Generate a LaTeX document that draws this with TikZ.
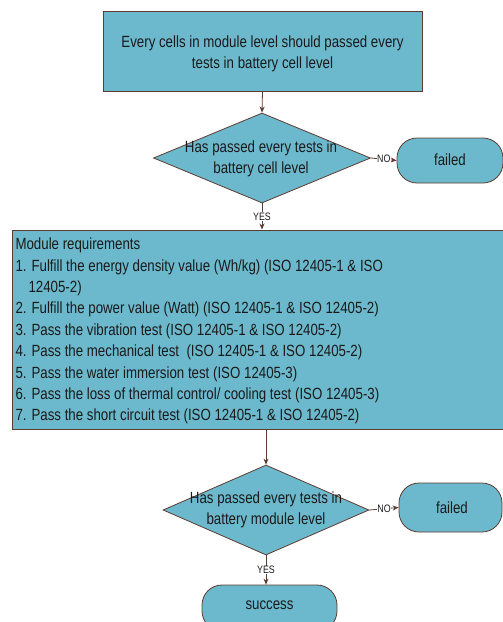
\documentclass[tikz,border=0pt]{standalone}
\usepackage{fontspec}
\setmainfont{Liberation Sans}[FakeStretch=0.82]
\usetikzlibrary{shapes.geometric,arrows.meta}
\definecolor{boxfill}{HTML}{6CB9CD}
\definecolor{boxline}{HTML}{5C3B30}
\definecolor{txt}{HTML}{1A1A1A}
\tikzset{
  every node/.style={text=txt},
  mainfont/.style={font=\fontsize{16.2}{21.4}\selectfont},
  rectbox/.style={draw=boxline, fill=boxfill, line width=1pt, rectangle, inner sep=0pt},
  roundbox/.style={draw=boxline, fill=boxfill, line width=0.8pt, rectangle, rounded corners=20pt, inner sep=0pt},
  decision/.style={draw=boxline, fill=boxfill, line width=0.8pt, diamond, inner sep=0pt},
  conn/.style={draw=boxline, line width=0.8pt, -{Stealth[length=6pt,width=5pt]}},
  yesno/.style={fill=white, inner sep=0.6pt, font=\fontsize{10.8}{12}\selectfont}
}
\begin{document}
\begin{tikzpicture}[x=1pt,y=-1pt]
\useasboundingbox (0,0) rectangle (503,622);
% top box
\node[rectbox, minimum width=319pt, minimum height=80pt] (top) at (262.5,51) {};
\node[mainfont, align=center] (toptext) at (262.5,54) {Every cells in module level should passed every\\tests in battery cell level};
% decision 1
\node[decision, minimum width=217pt, minimum height=90pt] (d1) at (262,158) {};
\node[mainfont, align=center] (d1text) at (261,159) {Has passed every tests in\\battery cell level};
% failed 1
\node[roundbox, minimum width=106pt, minimum height=45pt] (f1) at (450,160.5) {};
\node[mainfont] (f1text) at (450,160) {failed};
% module box
\node[rectbox, minimum width=510pt, minimum height=199pt] (mod) at (267,329.5) {};
\node[mainfont, align=left, anchor=north west] (modtext) at (12,234.5) {Module requirements\\
1. Fulfill the energy density value (Wh/kg) (ISO 12405-1 \& ISO\\
\hspace*{13pt}12405-2)\\
2. Fulfill the power value (Watt) (ISO 12405-1 \& ISO 12405-2)\\
3. Pass the vibration test (ISO 12405-1 \& ISO 12405-2)\\
4. Pass the mechanical test~ (ISO 12405-1 \& ISO 12405-2)\\
5. Pass the water immersion test (ISO 12405-3)\\
6. Pass the loss of thermal control/ cooling test (ISO 12405-3)\\
7. Pass the short circuit test (ISO 12405-1 \& ISO 12405-2)};
% decision 2
\node[decision, minimum width=206pt, minimum height=90pt] (d2) at (266,510) {};
\node[mainfont, align=center] (d2text) at (266,510) {Has passed every tests in\\battery module level};
% failed 2
\node[roundbox, minimum width=103pt, minimum height=49pt] (f2) at (450.5,507.5) {};
\node[mainfont] (f2text) at (452,508) {failed};
% success
\node[roundbox, minimum width=135pt, minimum height=46pt] (succ) at (269.5,608) {};
\node[mainfont] (succtext) at (269.5,605) {success};
% connectors
\draw[conn] (top.south) -- (d1.north);
\draw[conn] (d1.east) -- node[yesno] (no1) {NO} (f1.west);
\draw[conn] (d1.south) -- node[yesno] (yes1) {YES} (d1.south |- mod.north);
\draw[conn] (d2.north |- mod.south) -- (d2.north);
\draw[conn] (d2.east) -- node[yesno] (no2) {NO} (f2.west);
\draw[conn] (d2.south) -- node[yesno] (yes2) {YES} (d2.south |- succ.north);
\end{tikzpicture}
\end{document}
